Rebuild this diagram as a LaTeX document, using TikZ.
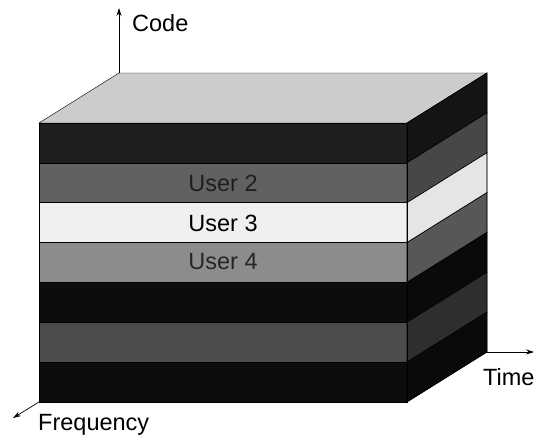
\documentclass[tikz,border=0pt]{standalone}
\usepackage{fontspec}
\setmainfont{Liberation Sans}
\usetikzlibrary{calc,arrows,arrows.meta}

\begin{document}
\begin{tikzpicture}[x=1pt,y=-1pt,font=\fontsize{23.5}{28}\selectfont,
    axis/.style={->, >={Stealth[length=8pt,width=5pt]}, line width=0.7pt}]
\useasboundingbox (0,0) rectangle (535,436);

% corners of the block
\coordinate (ftl) at (39,123);
\coordinate (ftr) at (407,123);
\coordinate (fbl) at (39,402);
\coordinate (fbr) at (407,402);
\coordinate (btl) at (119,73);
\coordinate (btr) at (487,73);
\coordinate (bbr) at (487,352);

% top face
\draw[fill=black!20] (ftl) -- (btl) -- (btr) -- (ftr) -- cycle;

% user bands, front and side
\foreach \i/\cf/\cs in {0/88/92, 1/62/72, 2/6/10, 3/45/66, 4/95/96, 5/70/82, 6/95/96} {
  \filldraw[fill=black!\cf, line width=0.6pt] (39,{123+\i*39.857}) rectangle (407,{123+(\i+1)*39.857});
  \filldraw[fill=black!\cs, line width=0.6pt] (407,{123+\i*39.857}) -- (487,{73+\i*39.857})
    -- (487,{73+(\i+1)*39.857}) -- (407,{123+(\i+1)*39.857}) -- cycle;
}

% outline
\draw (ftl) rectangle (fbr);
\draw (ftr) -- (btr) -- (bbr) -- (fbr);

% user labels
\node[text=black!88] (user2) at (223,183) {User 2};
\node (user3) at (223,223) {User 3};
\node[text=black!85] (user4) at (223,262) {User 4};

% code axis
\coordinate (codetip) at (119,8);
\draw[axis] (btl) -- (codetip);
\node[anchor=base west, inner sep=0] (code) at (132,32) {Code};

% time axis
\coordinate (timetip) at (534,352);
\draw[axis] (bbr) -- (timetip);
\node[anchor=base west, inner sep=0] (time) at (483,385) {Time};

% frequency axis
\coordinate (freqtip) at (13,418);
\draw[axis] (fbl) -- (freqtip);
\node[anchor=base west, inner sep=0] (freq) at (38,430) {Frequency};

\end{tikzpicture}
\end{document}
